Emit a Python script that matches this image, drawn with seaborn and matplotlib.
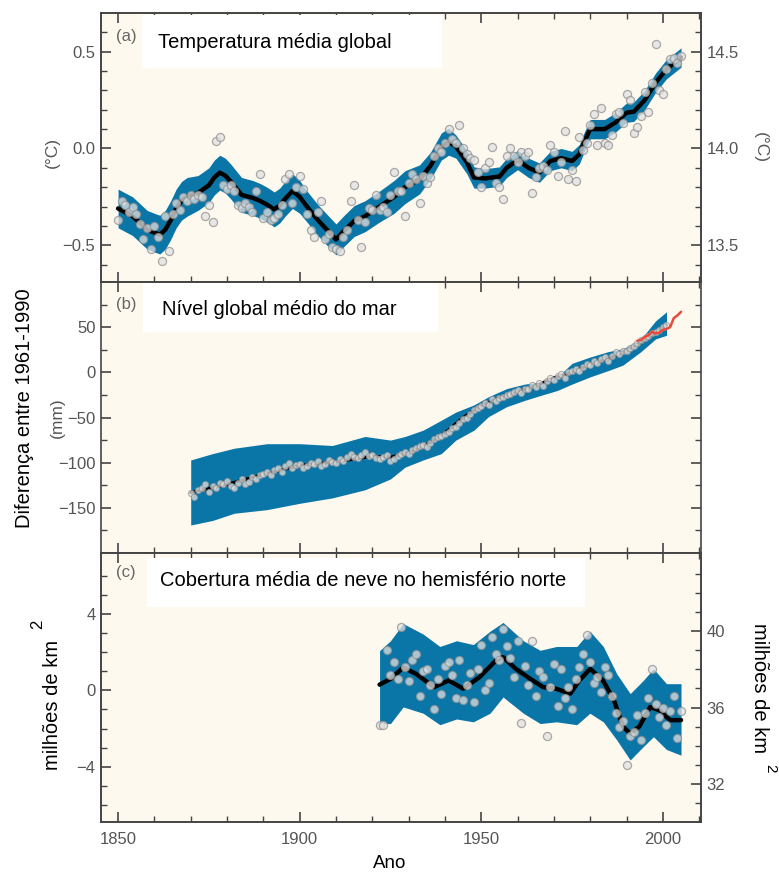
import numpy as np
import pandas as pd
import matplotlib
matplotlib.use("Agg")
import matplotlib.pyplot as plt
import seaborn as sns
from matplotlib.patches import Rectangle
from matplotlib.ticker import FixedLocator, MultipleLocator

# ---------------- DATA ----------------
# (a) Global mean temperature anomaly (deg C, relative to 1961-1990)
temp_years = list(range(1850, 2006))
temp_anom = [
    -0.37, -0.27, -0.29, -0.33, -0.30, -0.34, -0.39, -0.47, -0.41, -0.52,
    -0.40, -0.46, -0.58, -0.35, -0.53, -0.34, -0.28, -0.32, -0.25, -0.27,
    -0.24, -0.26, -0.24, -0.25, -0.35, -0.29, -0.38, 0.04, 0.06, -0.19,
    -0.21, -0.19, -0.22, -0.29, -0.31, -0.28, -0.30, -0.33, -0.22, -0.13,
    -0.36, -0.33, -0.37, -0.36, -0.34, -0.29, -0.16, -0.13, -0.28, -0.20,
    -0.14, -0.21, -0.34, -0.42, -0.46, -0.33, -0.27, -0.47, -0.44, -0.51,
    -0.52, -0.53, -0.46, -0.42, -0.27, -0.19, -0.37, -0.51, -0.38, -0.31,
    -0.32, -0.24, -0.32, -0.30, -0.33, -0.24, -0.12, -0.22, -0.22, -0.35,
    -0.18, -0.13, -0.16, -0.28, -0.14, -0.18, -0.15, -0.04, 0.00, -0.02,
    0.03, 0.10, 0.05, 0.03, 0.12, 0.00, -0.03, -0.05, -0.06, -0.12,
    -0.20, -0.10, -0.07, 0.01, -0.18, -0.20, -0.26, -0.04, 0.00, -0.04,
    -0.07, -0.02, -0.04, -0.02, -0.23, -0.15, -0.10, -0.09, -0.11, 0.02,
    -0.02, -0.14, -0.07, 0.09, -0.16, -0.11, -0.17, 0.06, -0.01, 0.03,
    0.12, 0.18, 0.02, 0.21, 0.03, 0.02, 0.07, 0.18, 0.19, 0.13,
    0.28, 0.25, 0.08, 0.11, 0.17, 0.29, 0.19, 0.34, 0.54, 0.30,
    0.28, 0.41, 0.46, 0.47, 0.44, 0.48,
]
temp_smooth_years = [1850, 1852, 1854, 1856, 1858, 1860, 1861.5, 1863, 1864.5, 1866,
                     1867.5, 1869, 1872, 1875, 1876.5, 1878, 1879.5, 1881, 1884, 1887,
                     1889, 1891, 1893, 1894.5, 1896, 1898, 1900, 1902, 1905, 1908,
                     1910, 1912, 1915, 1918, 1922, 1926, 1929, 1933, 1936, 1939,
                     1941, 1943, 1946, 1948, 1951, 1955, 1957, 1960, 1963, 1966,
                     1969, 1972, 1975, 1977, 1978.5, 1980, 1984, 1987, 1990, 1992,
                     1995, 1998, 2001, 2003, 2005]
temp_smooth = [-0.31, -0.33, -0.35, -0.385, -0.42, -0.435, -0.445, -0.42, -0.37, -0.31,
               -0.27, -0.25, -0.23, -0.19, -0.15, -0.125, -0.14, -0.17, -0.24, -0.255,
               -0.27, -0.29, -0.315, -0.295, -0.26, -0.22, -0.25, -0.30, -0.37, -0.43,
               -0.47, -0.43, -0.375, -0.35, -0.30, -0.25, -0.20, -0.16, -0.09, 0.01,
               0.035, 0.01, -0.07, -0.15, -0.155, -0.145, -0.10, -0.06, -0.10, -0.125,
               -0.065, -0.05, -0.065, -0.03, 0.04, 0.10, 0.10, 0.135, 0.185, 0.19,
               0.25, 0.34, 0.41, 0.44, 0.47]
temp_halfwidth = [0.10, 0.10, 0.10, 0.10, 0.10, 0.10, 0.10, 0.10, 0.10, 0.10,
                  0.10, 0.10, 0.09, 0.09, 0.09, 0.09, 0.09, 0.09, 0.09, 0.09,
                  0.09, 0.09, 0.09, 0.09, 0.09, 0.09, 0.085, 0.08, 0.08, 0.08,
                  0.08, 0.08, 0.08, 0.08, 0.08, 0.085, 0.085, 0.075, 0.07, 0.07,
                  0.07, 0.06, 0.06, 0.055, 0.05, 0.05, 0.05, 0.05, 0.05, 0.05,
                  0.05, 0.05, 0.05, 0.05, 0.05, 0.05, 0.05, 0.05, 0.05, 0.05,
                  0.05, 0.05, 0.05, 0.05, 0.05]

# (b) Global mean sea level (mm, relative to 1961-1990)
sea_years = list(range(1870, 2002))
sea_level = [
    -134, -138, -130, -128, -124, -132, -126, -128, -122, -124,
    -120, -126, -128, -122, -118, -124, -121, -116, -118, -114,
    -112, -110, -114, -108, -106, -110, -104, -100, -106, -103,
    -102, -106, -104, -100, -102, -98, -104, -101, -97, -99,
    -100, -96, -98, -94, -90, -94, -95, -92, -88, -93,
    -92, -95, -96, -94, -92, -98, -96, -93, -90, -88,
    -90, -86, -84, -82, -80, -83, -78, -74, -72, -70,
    -68, -66, -62, -60, -56, -52, -50, -46, -42, -40,
    -37, -34, -36, -30, -32, -28, -27, -25, -24, -22,
    -20, -23, -19, -18, -14, -16, -12, -15, -10, -6,
    -8, -4, -2, -6, 0, 2, 4, 1, 6, 9,
    8, 12, 10, 15, 17, 13, 18, 22, 20, 24,
    24, 27, 29, 32, 36, 38, 40, 43, 45, 47,
    50, 52,
]
sea_smooth_years = [1870, 1880, 1890, 1900, 1910, 1920, 1925, 1930, 1935, 1940,
                    1945, 1950, 1955, 1960, 1965, 1970, 1975, 1980, 1985, 1990,
                    1995, 2001]
sea_smooth = [-133, -124, -113, -103, -99, -93, -94, -89, -80, -67,
              -50, -37, -28, -22, -15, -6, 0, 9, 15, 24,
              36, 52]
sea_band_years = [1870, 1876, 1882, 1891, 1900, 1909, 1918, 1925, 1929, 1934, 1939,
                  1943, 1948, 1952, 1957, 1962, 1966, 1971, 1975, 1980, 1985,
                  1989, 1994, 1998, 2001]
sea_band_lower = [-169, -164, -156, -152, -145, -139, -130, -118, -105, -97, -90,
                  -75, -64, -49, -38, -31, -26, -20, -13, -5, 2,
                  8, 23, 37, 41]
sea_band_upper = [-97, -90, -84, -79, -79, -81, -71, -75, -71, -64, -53,
                  -44, -36, -27, -18, -13, -11, -5, 10, 17, 23,
                  26, 37, 57, 67]
sat_years = [1993, 1994, 1995, 1996, 1997, 1998, 1999, 2000, 2001, 2002, 2003, 2004, 2005]
sat_level = [35, 36, 39, 41, 45, 43, 44, 47, 48, 50, 60, 63, 67]

# (c) Northern Hemisphere snow cover anomaly (million km2)
snow_years = list(range(1922, 2006))
snow_anom = [
    -1.8, -1.8, 2.1, 0.8, 1.5, 0.6, 3.3, 1.2,
    0.5, 1.6, 1.9, -0.3, 1.0, 1.1, 0.3, -1.0, 0.6, -0.2,
    1.3, 1.5, 0.8, -0.4, 1.6, -0.5, 0.3, 0.9, -0.6, 1.1,
    2.4, 0.0, 0.4, 2.8, 1.9, 1.6, 3.2, 2.3, 1.7, 0.7,
    2.6, -1.7, 1.3, 0.3, 2.6, -0.3, 1.0, 0.7, -2.4, 0.2,
    1.4, -0.8, 1.1, -0.4, 0.2, -1.0, 0.6, 1.2, 1.9, 2.9,
    1.5, 0.4, 0.7, -0.1, 1.2, 0.8, -0.3, -1.2, -1.9, -1.6,
    -3.9, -2.4, -2.2, -1.3, -2.6, -1.2, -0.4, 1.1, -0.7, -1.4,
    -0.9, -1.8, -1.1, -0.3, -2.5, -1.1,
]
snow_smooth_years = [1922, 1925, 1928.5, 1932, 1937, 1941, 1945, 1949.5, 1954, 1956,
                     1959.5, 1963.5, 1967, 1970.5, 1974.5, 1977, 1980, 1983.5, 1986.5, 1989,
                     1991, 1993.5, 1996.5, 1999, 2002, 2005]
snow_smooth = [0.3, 0.6, 1.2, 0.87, 0.17, 0.52, 0.09, 0.69, 1.56, 1.74,
               1.13, 0.6, 0.17, 0.09, -0.17, 0.52, 1.13, 0.52, -0.5, -1.9,
               -2.26, -1.9, -0.87, -1.04, -1.56, -1.56]
snow_band_years = [1922, 1925, 1928.5, 1934, 1938.6, 1943.2, 1947.8, 1952.4, 1956, 1961.6,
                   1966.2, 1970.7, 1976.3, 1979.9, 1983.6, 1987.3, 1991, 1994.6, 1997.4, 2001,
                   2005]
snow_band_lower = [-1.74, -1.74, -0.87, -1.2, -1.8, -1.5, -1.65, -1.2, -0.35, -1.2,
                   -1.74, -1.65, -1.8, -1.2, -1.65, -2.6, -3.65, -2.95, -2.43, -3.1,
                   -3.4]
snow_band_upper = [2.08, 2.6, 3.5, 2.95, 2.3, 2.6, 2.4, 3.1, 3.56, 2.6,
                   2.1, 2.3, 2.3, 3.1, 2.3, 0.87, -0.17, 0.52, 1.13, 0.35,
                   0.35]

# ---------------- STYLE ----------------
sns.set_theme(style="ticks")
plt.rcParams['font.family'] = ['Liberation Sans', 'DejaVu Sans']

W, H = 779, 873
fig = plt.figure(figsize=(W / 100, H / 100), dpi=100)
fig.patch.set_facecolor('white')

def fx(x):
    return x / W

def fy(y):
    return 1 - y / H

BAND = '#0a76a8'
CREAM = '#fef9ef'
SPINE = '#444444'
TICKC = '#555555'
PT_FACE = '#e2e2e2'
PT_EDGE = '#8f8f8f'

L, R = 101, 701
panel_px = [(13, 282), (282, 553), (553, 822)]
axes = []
for top, bot in panel_px:
    ax = fig.add_axes([fx(L), fy(bot), (R - L) / W, (bot - top) / H])
    ax.set_facecolor(CREAM)
    for s in ax.spines.values():
        s.set_color(SPINE)
        s.set_linewidth(1.2)
    ax.set_xlim(1845.3, 2010.5)
    ax.xaxis.set_major_locator(FixedLocator([1850, 1900, 1950, 2000]))
    ax.xaxis.set_minor_locator(MultipleLocator(10))
    ax.tick_params(axis='both', which='major', direction='in', length=7, width=1.2,
                   color=SPINE, labelsize=12, labelcolor=TICKC, pad=4)
    ax.tick_params(axis='both', which='minor', direction='in', length=4, width=1.0,
                   color=SPINE)
    ax.tick_params(axis='x', which='both', top=True, bottom=True, labelbottom=False)
    ax.tick_params(axis='x', which='major', pad=7)
    axes.append(ax)

ax_a, ax_b, ax_c = axes

# ---- (a) temperature ----
t_lo = [c - h for c, h in zip(temp_smooth, temp_halfwidth)]
t_hi = [c + h for c, h in zip(temp_smooth, temp_halfwidth)]
ax_a.fill_between(temp_smooth_years, t_lo, t_hi, color=BAND, lw=0, zorder=2)
sns.lineplot(x=temp_smooth_years, y=temp_smooth, ax=ax_a, color='black', lw=3.2, zorder=3)
sns.scatterplot(x=temp_years, y=temp_anom, ax=ax_a, s=34, color=PT_FACE,
                edgecolor=PT_EDGE, linewidth=0.9, alpha=0.75, zorder=4)
ax_a.set_ylim(-0.69, 0.70)
ax_a.yaxis.set_major_locator(FixedLocator([-0.5, 0.0, 0.5]))
ax_a.yaxis.set_minor_locator(FixedLocator([-0.6, -0.4, -0.3, -0.2, -0.1, 0.1, 0.2, 0.3, 0.4, 0.6]))
ax_a.tick_params(axis='y', which='both', right=False)
ax_ar = ax_a.twinx()
ax_ar.set_ylim(-0.69 + 14.0, 0.70 + 14.0)
ax_ar.yaxis.set_major_locator(FixedLocator([13.5, 14.0, 14.5]))
ax_ar.yaxis.set_minor_locator(FixedLocator([13.4, 13.6, 13.7, 13.8, 13.9, 14.1, 14.2, 14.3, 14.4, 14.6]))

# ---- (b) sea level ----
ax_b.fill_between(sea_band_years, sea_band_lower, sea_band_upper, color=BAND, lw=0, zorder=2)
sns.lineplot(x=sea_smooth_years, y=sea_smooth, ax=ax_b, color='black', lw=2.2, zorder=3)
sns.scatterplot(x=sea_years, y=sea_level, ax=ax_b, s=20, color=PT_FACE,
                edgecolor=PT_EDGE, linewidth=0.7, alpha=0.75, zorder=4)
sns.lineplot(x=sat_years, y=sat_level, ax=ax_b, color='#e84a3c', lw=1.8, zorder=5)
ax_b.set_ylim(-200, 100)
ax_b.yaxis.set_major_locator(FixedLocator([-150, -100, -50, 0, 50]))
ax_b.yaxis.set_minor_locator(FixedLocator([-175, -125, -75, -25, 25, 75]))
ax_b.tick_params(axis='y', which='both', right=True, labelright=False)

# ---- (c) snow cover ----
ax_c.fill_between(snow_band_years, snow_band_lower, snow_band_upper, color=BAND, lw=0, zorder=2)
sns.lineplot(x=snow_smooth_years, y=snow_smooth, ax=ax_c, color='black', lw=3.2, zorder=3)
sns.scatterplot(x=snow_years, y=snow_anom, ax=ax_c, s=34, color=PT_FACE,
                edgecolor=PT_EDGE, linewidth=0.9, alpha=0.75, zorder=4)
ax_c.set_ylim(-6.9, 7.2)
ax_c.yaxis.set_major_locator(FixedLocator([-4, 0, 4]))
ax_c.yaxis.set_minor_locator(FixedLocator([-6, -5, -3, -2, -1, 1, 2, 3, 5, 6]))
ax_c.tick_params(axis='y', which='both', right=False)
ax_c.tick_params(axis='x', which='both', labelbottom=True)
ax_cr = ax_c.twinx()
ax_cr.set_ylim(-6.9 + 36.9, 7.2 + 36.9)
ax_cr.yaxis.set_major_locator(FixedLocator([32, 36, 40]))
ax_cr.yaxis.set_minor_locator(FixedLocator([31, 33, 34, 35, 37, 38, 39, 41, 42, 43]))

for axr in (ax_ar, ax_cr):
    for s in axr.spines.values():
        s.set_color(SPINE)
        s.set_linewidth(1.2)
    axr.tick_params(axis='y', which='major', direction='in', length=7, width=1.2,
                    color=SPINE, labelsize=12, labelcolor=TICKC, pad=4)
    axr.tick_params(axis='y', which='minor', direction='in', length=4, width=1.0, color=SPINE)

for ax in axes:
    ax.set_xlabel('')
    ax.set_ylabel('')

# ---- white title boxes and texts ----
boxes = [(142, 15, 442, 68), (143, 283, 438, 332), (147, 558, 585, 607)]
for ax, (x0, y0, x1, y1) in zip(axes, boxes):
    fig.patches.append(Rectangle((fx(x0), fy(y1)), (x1 - x0) / W, (y1 - y0) / H,
                                 transform=fig.transFigure, facecolor='white',
                                 edgecolor='none', zorder=5))

titles = [('Temperatura média global', 158, 42),
          ('Nível global médio do mar', 162, 309),
          ('Cobertura média de neve no hemisfério norte', 160, 581)]
for t, x, y in titles:
    fig.text(fx(x), fy(y), t, ha='left', va='center', fontsize=14.5, color='black', zorder=6)

for lab, y in [('(a)', 36), ('(b)', 304), ('(c)', 573)]:
    fig.text(fx(116), fy(y), lab, ha='left', va='center', fontsize=12, color='#666666', zorder=6)

fig.text(fx(52), fy(153), '(°C)', rotation=90, ha='center', va='center', fontsize=12.5, color=TICKC)
fig.text(fx(760), fy(148), '(°C)', rotation=270, ha='center', va='center', fontsize=12.5, color=TICKC)
fig.text(fx(25), fy(408), 'Diferença entre 1961-1990', rotation=90, ha='center', va='center',
         fontsize=14.5, color='black')
fig.text(fx(57), fy(418), '(mm)', rotation=90, ha='center', va='center', fontsize=12.5, color=TICKC)
fig.text(fx(53), fy(705), 'milhões de km', rotation=90, ha='center', va='center',
         fontsize=14.5, color='black')
fig.text(fx(38), fy(624), '2', rotation=90, ha='center', va='center', fontsize=12, color='black')
fig.text(fx(760), fy(688), 'milhões de km', rotation=270, ha='center', va='center',
         fontsize=14.5, color='black')
fig.text(fx(770), fy(768), '2', rotation=270, ha='center', va='center', fontsize=11, color='black')
fig.text(fx(390), fy(863), 'Ano', ha='center', va='center', fontsize=13.5, color='black')

fig.savefig('out.png', dpi=100, facecolor='white')
